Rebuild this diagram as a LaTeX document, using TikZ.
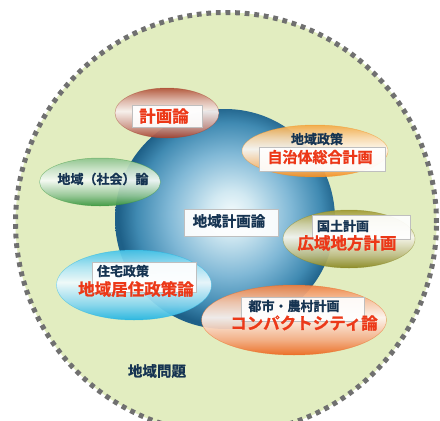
\documentclass[tikz,border=0pt]{standalone}
\usepackage{fontspec}
\newfontfamily\jp{Noto Sans CJK JP}[BoldFont={Noto Sans CJK JP Bold}, BoldFeatures={FakeBold=1}]
\usetikzlibrary{shapes.geometric}
\definecolor{bgfill}{RGB}{226,237,192}
\definecolor{dotgray}{RGB}{112,112,112}
\definecolor{navy}{RGB}{22,52,82}
\definecolor{jred}{RGB}{236,56,24}
\definecolor{sph0}{RGB}{242,250,252}
\definecolor{sph1}{RGB}{210,233,242}
\definecolor{sph2}{RGB}{128,184,214}
\definecolor{sph3}{RGB}{64,138,178}
\definecolor{sph4}{RGB}{30,96,136}
\colorlet{ctop}{red}\colorlet{cbot}{red}
\pgfdeclareradialshading{sphereshade}{\pgfpoint{1.5bp}{1.5bp}}{color(0bp)=(sph0); color(5bp)=(sph1); color(14bp)=(sph2); color(21bp)=(sph3); color(25bp)=(sph4); color(50bp)=(sph4)}
\pgfdeclareverticalshading[ctop,cbot]{ovalshade}{100bp}{color(0bp)=(cbot); color(25bp)=(cbot); color(36bp)=(cbot!55!white); color(52bp)=(white!92!ctop); color(63bp)=(ctop!45!white); color(75bp)=(ctop); color(100bp)=(ctop)}
\tikzset{
  oval/.style 2 args={ellipse, inner sep=0pt, /utils/exec={\colorlet{ctop}{#1}\colorlet{cbot}{#2}}, shading=ovalshade, fill opacity=0.93, draw=#2, draw opacity=0.5, line width=0.5pt},
  labbox/.style={draw=black!25, line width=0.6pt, fill=white, fill opacity=0.92, inner sep=0pt},
  redtxt/.style={font=\jp\bfseries\fontsize{16.5}{18}\selectfont, text=jred, inner sep=0pt},
  navtxt/.style={font=\jp\bfseries\fontsize{13}{15}\selectfont, text=navy, inner sep=0pt},
}
\definecolor{c1t}{RGB}{178,82,56}\definecolor{c1b}{RGB}{165,64,44}
\definecolor{c2t}{RGB}{244,170,70}\definecolor{c2b}{RGB}{244,142,30}
\definecolor{c3t}{RGB}{140,195,140}\definecolor{c3b}{RGB}{56,150,60}
\definecolor{c4t}{RGB}{160,154,50}\definecolor{c4b}{RGB}{136,134,30}
\definecolor{c5t}{RGB}{70,196,232}\definecolor{c5b}{RGB}{32,180,226}
\definecolor{c6t}{RGB}{240,130,66}\definecolor{c6b}{RGB}{236,104,30}
\begin{document}
\begin{tikzpicture}[x=1pt,y=-1pt]
\clip (0,0) rectangle (440,421);
\fill[white] (0,0) rectangle (440,421);
% outer region
\node[circle, minimum size=421pt, inner sep=0pt, fill=bgfill, draw=dotgray, line width=5pt, dash pattern=on 4.8pt off 4.8pt] (outer) at (226,223) {};
% sphere
\node[circle, minimum size=220pt, inner sep=0pt, shading=sphereshade] (sphere) at (225,219) {};
% ellipses
\node[oval={c1t}{c1b}, minimum width=104pt, minimum height=50pt] (e1) at (167,113) {};
\node[oval={c2t}{c2b}, minimum width=146pt, minimum height=52pt] (e2) at (315,151) {};
\node[oval={c3t}{c3b}, minimum width=121pt, minimum height=48pt] (e3) at (100,182) {};
\node[oval={c4t}{c4b}, minimum width=132pt, minimum height=58pt] (e4) at (349,239) {};
\node[oval={c5t}{c5b}, minimum width=155pt, minimum height=70pt] (e5) at (134,285) {};
\node[oval={c6t}{c6b}, minimum width=185pt, minimum height=70pt] (e6) at (294,320) {};
% label boxes
\node[labbox, minimum width=70pt, minimum height=22pt] (b1) at (167,116) {};
\node[labbox, minimum width=126pt, minimum height=24pt] (b2) at (322,159) {};
\node[labbox, minimum width=94pt, minimum height=27pt] (b3) at (231,222.5) {};
\node[labbox, minimum width=98pt, minimum height=24pt] (b4) at (361,227) {};
\node[labbox, minimum width=104pt, minimum height=30pt] (b5) at (144,277) {};
\node[labbox, minimum width=123pt, minimum height=24pt] (b6) at (303,309) {};
% texts
\node[redtxt] (t1) at (164,116) {計画論};
\node[navtxt] (t2a) at (317,139) {地域政策};
\node[redtxt, font=\jp\bfseries\fontsize{15}{17}\selectfont] (t2b) at (320,157) {自治体総合計画};
\node[navtxt] (t3) at (103,179) {地域（社会）論};
\node[navtxt, font=\jp\bfseries\fontsize{14.5}{16}\selectfont] (t4) at (229,221) {地域計画論};
\node[navtxt] (t5a) at (343,226) {国土計画};
\node[redtxt] (t5b) at (347,243) {広域地方計画};
\node[navtxt] (t6a) at (123,271) {住宅政策};
\node[redtxt] (t6b) at (136,289) {地域居住政策論};
\node[navtxt] (t7a) at (294,306) {都市・農村計画};
\node[redtxt] (t7b) at (304,323) {コンパクトシティ論};
\node[navtxt, font=\jp\bfseries\fontsize{14.5}{16}\selectfont] (t8) at (157,371) {地域問題};
\end{tikzpicture}
\end{document}
